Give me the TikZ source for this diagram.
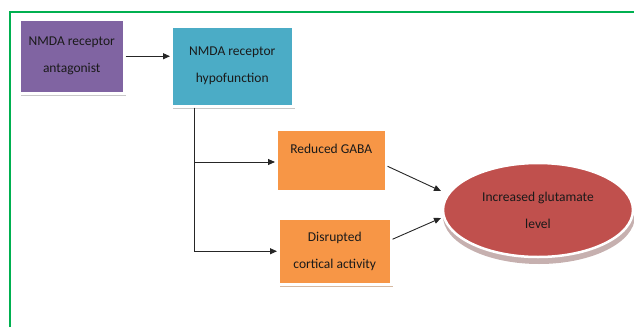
\documentclass[tikz,border=0pt]{standalone}
\usepackage{fontspec}
\setmainfont{Carlito}
\usetikzlibrary{arrows.meta,shapes.geometric}
\definecolor{purp}{HTML}{8064A2}
\definecolor{teal2}{HTML}{4BACC6}
\definecolor{orng}{HTML}{F79646}
\definecolor{redd}{HTML}{C0504D}
\definecolor{frame}{HTML}{00B050}
\definecolor{shad}{HTML}{C8C8C8}
\definecolor{txt}{HTML}{1A1A1A}
\tikzset{
  x=1pt,y=-1pt,
  box/.style={draw=white,line width=2.5pt,align=center,text=txt,font=\fontsize{13.5}{27}\selectfont,inner sep=0pt},
  conn/.style={line width=0.9pt,draw=black!85},
  arr/.style={conn,-{Triangle[length=7pt,width=6pt]}},
}
\begin{document}
\begin{tikzpicture}
\useasboundingbox (0,0) rectangle (634,327);
\draw[frame,line width=2pt] (10,327) -- (10,12) -- (634,12);
% shadows
\fill[shad] (21,21) rectangle (126,96);
\fill[shad] (173,28) rectangle (295,109);
\fill[shad!70!orng] (278,131) rectangle (388,193);
\fill[shad!70!orng] (280,220) rectangle (393,287);
\fill[shad!80!redd] (539,216) ellipse (96 and 48);
% nodes
\node[box,fill=purp,minimum width=105,minimum height=74,anchor=north west] (a) at (18,18) {NMDA receptor\\antagonist};
\node[box,fill=teal2,minimum width=122,minimum height=80,anchor=north west] (b) at (170,25) {NMDA receptor\\hypofunction};
\node[box,fill=orng,minimum width=110,minimum height=62,anchor=north west,text depth=22pt] (c) at (275,128) {Reduced GABA};
\node[box,fill=orng,minimum width=113,minimum height=66,anchor=north west] (d) at (277,217) {Disrupted\\cortical activity};
\node[box,ellipse,fill=redd,minimum width=190,minimum height=94,inner sep=0pt] (e) at (538,210) {Increased glutamate\\level};
% connectors
\draw[arr] (a.east) -- (b.west |- a.east);
\coordinate (t) at ([xshift=-38]b.south);
\draw[conn] (t) -- (t |- d.west);
\draw[arr] (t |- 0,162) -- (c.west |- 0,162);
\draw[arr] (t |- d.west) -- (d.west);
\draw[arr] ([yshift=-6]c.east) -- (441,191);
\draw[arr] ([yshift=12]d.east) -- (441,218);
\end{tikzpicture}
\end{document}
